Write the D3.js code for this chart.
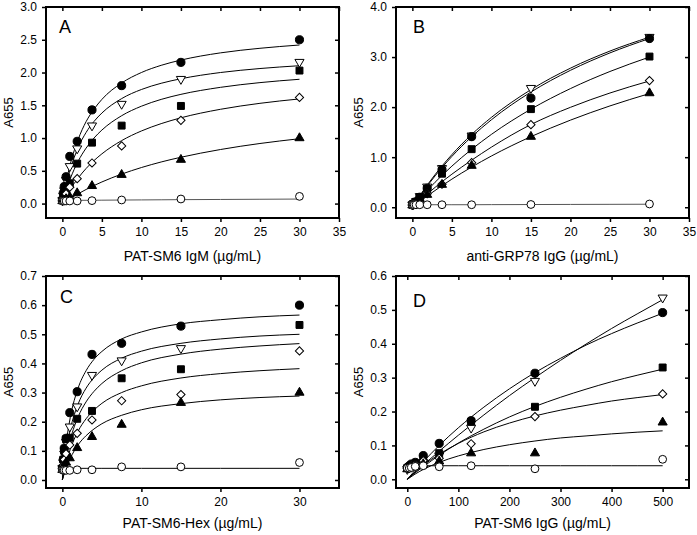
<!DOCTYPE html>
<html><head><meta charset="utf-8">
<script src="https://cdn.jsdelivr.net/npm/d3@7"></script>
<style>body{margin:0;background:#fff}svg text{font-family:Arial,"Liberation Sans",sans-serif;fill:#000}</style>
</head><body><svg id="c" width="697" height="535"></svg>
<script>
// ---------------- DATA ----------------
const concABC = [0, 0.117, 0.234, 0.469, 0.938, 1.875, 3.75, 7.5, 15, 30];
const concD = [0, 3.9, 7.8, 15.6, 31.25, 62.5, 125, 250, 500];

// Panel A  (PAT-SM6 IgM)
const A_downTri = [0.05, 0.12, 0.20, 0.36, 0.57, 0.84, 1.19, 1.52, 1.90, 2.16];
const A_square  = [0.05, 0.08, 0.12, 0.20, 0.31, 0.61, 0.93, 1.19, 1.49, 2.03];
const A_circle  = [0.05, 0.16, 0.26, 0.41, 0.72, 0.95, 1.43, 1.80, 2.155, 2.50];
const A_diamond = [0.04, 0.06, 0.09, 0.15, 0.25, 0.38, 0.62, 0.88, 1.27, 1.62];
const A_triUp   = [0.04, 0.04, 0.05, 0.07, 0.10, 0.16, 0.27, 0.44, 0.67, 1.00];
const A_openCircle = [0.04, 0.04, 0.04, 0.04, 0.04, 0.04, 0.045, 0.055, 0.07, 0.11];

// Panel B  (anti-GRP78 IgG)
const B_downTri = [0.05, 0.06, 0.08, 0.12, 0.22, 0.41, 0.78, 1.43, 2.38, 3.40];
const B_square  = [0.05, 0.06, 0.07, 0.11, 0.20, 0.36, 0.67, 1.16, 1.96, 3.01];
const B_circle  = [0.05, 0.06, 0.08, 0.11, 0.20, 0.38, 0.75, 1.41, 2.18, 3.37];
const B_diamond = [0.04, 0.05, 0.06, 0.09, 0.14, 0.27, 0.46, 0.89, 1.65, 2.53];
const B_triUp   = [0.04, 0.05, 0.06, 0.09, 0.15, 0.25, 0.45, 0.83, 1.41, 2.28];
const B_openCircle = [0.05, 0.05, 0.05, 0.05, 0.05, 0.05, 0.05, 0.05, 0.055, 0.065];

// Panel C  (PAT-SM6-Hex)
const C_downTri = [0.04, 0.06, 0.09, 0.13, 0.183, 0.252, 0.36, 0.41, 0.452, null];
const C_square  = [0.04, 0.07, 0.10, 0.14, 0.145, 0.21, 0.237, 0.349, 0.38, 0.532];
const C_circle  = [0.04, 0.07, 0.109, 0.143, 0.231, 0.303, 0.431, 0.469, 0.528, 0.60];
const C_diamond = [0.04, 0.05, 0.07, 0.09, 0.12, 0.16, 0.206, 0.272, 0.293, 0.443];
const C_triUp   = [0.035, 0.045, 0.05, 0.06, 0.075, 0.11, 0.148, 0.19, 0.265, 0.30];
const C_openCircle = [0.035, 0.033, 0.033, 0.033, 0.033, 0.035, 0.035, 0.045, 0.045, 0.06];

// Panel D  (PAT-SM6 IgG)
const D_downTri = [0.03, 0.035, 0.038, 0.042, 0.05, 0.07, 0.152, 0.29, 0.536];
const D_square  = [0.033, 0.036, 0.04, 0.045, 0.06, 0.077, 0.17, 0.214, 0.33];
const D_circle  = [0.035, 0.04, 0.045, 0.05, 0.07, 0.106, 0.173, 0.313, 0.492];
const D_diamond = [0.032, 0.035, 0.04, 0.045, 0.055, 0.062, 0.105, 0.185, 0.252];
const D_triUp   = [0.03, 0.032, 0.035, 0.04, 0.045, 0.053, 0.077, 0.077, 0.168];
const D_openCircle = [0.033, 0.033, 0.035, 0.038, 0.04, 0.037, 0.04, 0.031, 0.059];

// Fitted curves
const fitXA = [0, 0.25, 0.5, 1, 2, 3, 4, 5, 7.5, 10, 12.5, 15, 20, 25, 30];
const fitA_circle  = [0, 0.18, 0.34, 0.60, 0.98, 1.25, 1.44, 1.59, 1.84, 2.00, 2.11, 2.19, 2.30, 2.37, 2.42];
const fitA_downTri = [0, 0.157, 0.294, 0.522, 0.855, 1.085, 1.253, 1.382, 1.602, 1.741, 1.836, 1.905, 2.0, 2.061, 2.104];
const fitA_square  = [0, 0.109, 0.208, 0.379, 0.647, 0.846, 1.0, 1.122, 1.341, 1.486, 1.590, 1.667, 1.774, 1.846, 1.897];
const fitA_diamond = [0, 0.059, 0.114, 0.216, 0.39, 0.535, 0.656, 0.759, 0.961, 1.108, 1.220, 1.309, 1.439, 1.530, 1.597];
const fitA_triUp   = [0, 0.020, 0.040, 0.079, 0.15, 0.215, 0.275, 0.33, 0.45, 0.55, 0.635, 0.707, 0.825, 0.917, 0.99];
const fitA_openCircle = [0.05, 0.05, 0.05, 0.05, 0.05, 0.05, 0.051, 0.052, 0.054, 0.056, 0.058, 0.06, 0.063, 0.066, 0.069];

const fitXB = [0, 0.5, 1, 2, 3.75, 5, 7.5, 10, 15, 20, 25, 30];
const fitB_downTri = [0, 0.124, 0.244, 0.469, 0.824, 1.051, 1.453, 1.795, 2.349, 2.778, 3.120, 3.398];
const fitB_circle  = [0, 0.119, 0.233, 0.449, 0.793, 1.015, 1.408, 1.747, 2.301, 2.735, 3.083, 3.37];
const fitB_square  = [0, 0.093, 0.183, 0.356, 0.636, 0.821, 1.157, 1.455, 1.959, 2.370, 2.712, 3.0];
const fitB_diamond = [0, 0.075, 0.145, 0.28, 0.51, 0.66, 0.94, 1.2, 1.652, 1.996, 2.282, 2.522];
const fitB_triUp   = [0, 0.061, 0.121, 0.238, 0.431, 0.561, 0.802, 1.023, 1.41, 1.740, 2.024, 2.271];
const fitB_openCircle = [0.05, 0.05, 0.05, 0.05, 0.05, 0.05, 0.05, 0.052, 0.054, 0.056, 0.058, 0.06];

const fitXC = [0, 0.25, 0.5, 1, 2, 3, 4, 5, 7.5, 10, 15, 20, 25, 30];
const fitC_circle  = [0, 0.073, 0.130, 0.214, 0.316, 0.375, 0.414, 0.441, 0.484, 0.508, 0.536, 0.550, 0.560, 0.566];
const fitC_downTri = [0, 0.057, 0.103, 0.173, 0.261, 0.315, 0.351, 0.377, 0.418, 0.442, 0.469, 0.484, 0.494, 0.50];
const fitC_square  = [0, 0.043, 0.080, 0.138, 0.217, 0.268, 0.304, 0.331, 0.375, 0.402, 0.432, 0.449, 0.460, 0.468];
const fitC_diamond = [0, 0.032, 0.06, 0.105, 0.168, 0.21, 0.24, 0.263, 0.30, 0.323, 0.35, 0.365, 0.375, 0.382];
const fitC_triUp   = [0, 0.023, 0.042, 0.074, 0.121, 0.152, 0.175, 0.193, 0.222, 0.241, 0.262, 0.275, 0.283, 0.288];
const fitC_openCircle = [0.04, 0.04, 0.04, 0.04, 0.04, 0.04, 0.04, 0.04, 0.04, 0.04, 0.04, 0.04, 0.04, 0.04];

const fitXD = [0, 15, 31.25, 62.5, 100, 150, 200, 250, 300, 350, 400, 450, 500];
const fitD_circle  = [0, 0.026, 0.052, 0.100, 0.152, 0.213, 0.267, 0.315, 0.357, 0.396, 0.430, 0.461, 0.490];
const fitD_downTri = [0, 0.021, 0.042, 0.083, 0.130, 0.190, 0.247, 0.300, 0.351, 0.399, 0.445, 0.488, 0.530];
const fitD_square  = [0, 0.0185, 0.037, 0.071, 0.107, 0.148, 0.184, 0.215, 0.242, 0.266, 0.288, 0.307, 0.325];
const fitD_diamond = [0, 0.021, 0.041, 0.074, 0.106, 0.140, 0.166, 0.187, 0.204, 0.218, 0.231, 0.241, 0.25];
const fitD_triUp   = [0, 0.015, 0.029, 0.050, 0.069, 0.088, 0.102, 0.113, 0.122, 0.128, 0.134, 0.139, 0.143];
const fitD_openCircle = [0.04, 0.04, 0.04, 0.04, 0.04, 0.04, 0.04, 0.04, 0.04, 0.04, 0.04, 0.04, 0.04];

// Tick labels
const xTicksAB = [0, 5, 10, 15, 20, 25, 30, 35];
const xTicksC = [0, 10, 20, 30];
const xTicksD = [0, 100, 200, 300, 400, 500];
const yTicksA = [0, 0.5, 1.0, 1.5, 2.0, 2.5, 3.0];
const yTicksB = [0, 1.0, 2.0, 3.0, 4.0];
const yTicksC = [0, 0.1, 0.2, 0.3, 0.4, 0.5, 0.6, 0.7];
const yTicksD = [0, 0.1, 0.2, 0.3, 0.4, 0.5, 0.6];

const letters = ["A", "B", "C", "D"];
const xTitles = ["PAT-SM6 IgM (\u00b5g/mL)", "anti-GRP78 IgG (\u00b5g/mL)", "PAT-SM6-Hex (\u00b5g/mL)", "PAT-SM6 IgG (\u00b5g/mL)"];
const yTitle = "A655";

// ---------------- DRAW ----------------
const svg = d3.select("#c");
const seriesKeys = ["downTri", "square", "circle", "diamond", "triUp", "openCircle"];

const panels = [
  {letter: letters[0], xt: xTitles[0], conc: concABC, pts: {downTri:A_downTri, square:A_square, circle:A_circle, diamond:A_diamond, triUp:A_triUp, openCircle:A_openCircle},
   fitX: fitXA, fits: {downTri:fitA_downTri, square:fitA_square, circle:fitA_circle, diamond:fitA_diamond, triUp:fitA_triUp, openCircle:fitA_openCircle},
   xTicks: xTicksAB, yTicks: yTicksA, xDom: [-2.07, 35], yDom: [-0.22, 3.0],
   box: [46, 7, 339, 218], lx: 59, ly: 33, yTitleX: 8.5, xTitleY: 261, flatColor: "#555"},
  {letter: letters[1], xt: xTitles[1], conc: concABC, pts: {downTri:B_downTri, square:B_square, circle:B_circle, diamond:B_diamond, triUp:B_triUp, openCircle:B_openCircle},
   fitX: fitXB, fits: {downTri:fitB_downTri, square:fitB_square, circle:fitB_circle, diamond:fitB_diamond, triUp:fitB_triUp, openCircle:fitB_openCircle},
   xTicks: xTicksAB, yTicks: yTicksB, xDom: [-2.07, 35], yDom: [-0.215, 4.0],
   box: [396, 7, 689, 218], lx: 413, ly: 33, yTitleX: 358.5, xTitleY: 261, flatColor: "#555"},
  {letter: letters[2], xt: xTitles[2], conc: concABC, pts: {downTri:C_downTri, square:C_square, circle:C_circle, diamond:C_diamond, triUp:C_triUp, openCircle:C_openCircle},
   fitX: fitXC, fits: {downTri:fitC_downTri, square:fitC_square, circle:fitC_circle, diamond:fitC_diamond, triUp:fitC_triUp, openCircle:fitC_openCircle},
   xTicks: xTicksC, yTicks: yTicksC, xDom: [-2.07, 35], yDom: [-0.0275, 0.7],
   box: [46, 276, 339, 488], lx: 60, ly: 303, yTitleX: 8.5, xTitleY: 528, flatColor: "#000"},
  {letter: letters[3], xt: xTitles[3], conc: concD, pts: {downTri:D_downTri, square:D_square, circle:D_circle, diamond:D_diamond, triUp:D_triUp, openCircle:D_openCircle},
   fitX: fitXD, fits: {downTri:fitD_downTri, square:fitD_square, circle:fitD_circle, diamond:fitD_diamond, triUp:fitD_triUp, openCircle:fitD_openCircle},
   xTicks: xTicksD, yTicks: yTicksD, xDom: [-22.1, 551.6], yDom: [-0.0257, 0.6],
   box: [396, 276, 689, 488], lx: 413, ly: 307, yTitleX: 358.5, xTitleY: 528, flatColor: "#000"}
];

const symbolDef = {
  circle:     {type: d3.symbolCircle, size: 52, fill: "#000", rot: 0},
  openCircle: {type: d3.symbolCircle, size: 48, fill: "#fff", rot: 0},
  square:     {type: d3.symbolSquare, size: 48, fill: "#000", rot: 0},
  diamond:    {type: d3.symbolSquare, size: 34, fill: "#fff", rot: 45},
  triUp:      {type: d3.symbolTriangle, size: 36, fill: "#000", rot: 0},
  downTri:    {type: d3.symbolTriangle, size: 36, fill: "#fff", rot: 180}
};

panels.forEach(p => {
  const [x0, y0, x1, y1] = p.box;
  const x = d3.scaleLinear().domain(p.xDom).range([x0, x1]);
  const y = d3.scaleLinear().domain(p.yDom).range([y1, y0]);
  const g = svg.append("g");
  const fmt = d3.format(".1f");

  // axes
  const ax = (sel) => sel.call(s => s.select(".domain").remove())
      .call(s => s.selectAll("line").attr("stroke", "#000").attr("stroke-width", 1.5))
      .call(s => s.selectAll("text").attr("font-size", 12).attr("fill", "#000"));
  g.append("g").attr("transform", `translate(${x0},0)`)
    .call(d3.axisLeft(y).tickValues(p.yTicks).tickFormat(fmt).tickSize(4).tickPadding(5)).call(ax);
  g.append("g").attr("transform", `translate(${x1},0)`)
    .call(d3.axisLeft(y).tickValues(p.yTicks).tickFormat("").tickSize(-4)).call(ax)
    .selectAll("line").attr("x2", -4);
  g.append("g").attr("transform", `translate(0,${y1})`)
    .call(d3.axisBottom(x).tickValues(p.xTicks).tickFormat(d3.format("d")).tickSize(4).tickPadding(5)).call(ax);
  g.append("g").attr("transform", `translate(0,${y0})`)
    .call(d3.axisBottom(x).tickValues(p.xTicks).tickFormat("").tickSize(4)).call(ax);
  g.selectAll("g.tick text").attr("font-family", "Arial, 'Liberation Sans', sans-serif");

  // frame
  g.append("rect").attr("x", x0).attr("y", y0).attr("width", x1 - x0).attr("height", y1 - y0)
    .attr("fill", "none").attr("stroke", "#000").attr("stroke-width", 2);

  // fitted curves
  const line = d3.line().x(d => x(d[0])).y(d => y(d[1])).curve(d3.curveMonotoneX);
  seriesKeys.forEach(k => {
    const data = p.fitX.map((xv, i) => [xv, p.fits[k][i]]);
    g.append("path").attr("d", line(data)).attr("fill", "none")
      .attr("stroke", k === "openCircle" ? p.flatColor : "#000").attr("stroke-width", 1);
  });

  // markers
  seriesKeys.forEach(k => {
    const sd = symbolDef[k];
    const sym = d3.symbol().type(sd.type).size(sd.size);
    g.append("g").selectAll("path")
      .data(p.conc.map((c, i) => [c, p.pts[k][i]]).filter(d => d[1] != null)).join("path")
      .attr("d", sym)
      .attr("transform", d => `translate(${x(d[0])},${y(d[1])}) rotate(${sd.rot})`)
      .attr("fill", sd.fill).attr("stroke", "#000").attr("stroke-width", 1);
  });

  // titles
  g.append("text").attr("x", (x0 + x1) / 2).attr("y", p.xTitleY).attr("text-anchor", "middle")
    .attr("font-size", 14).text(p.xt);
  g.append("text").attr("transform", `translate(${p.yTitleX},${(y0 + y1) / 2}) rotate(-90)`)
    .attr("text-anchor", "middle").attr("dy", "0.35em").attr("font-size", 13).text(yTitle);
  g.append("text").attr("x", p.lx).attr("y", p.ly).attr("font-size", 18).text(p.letter);
});
</script></body></html>
